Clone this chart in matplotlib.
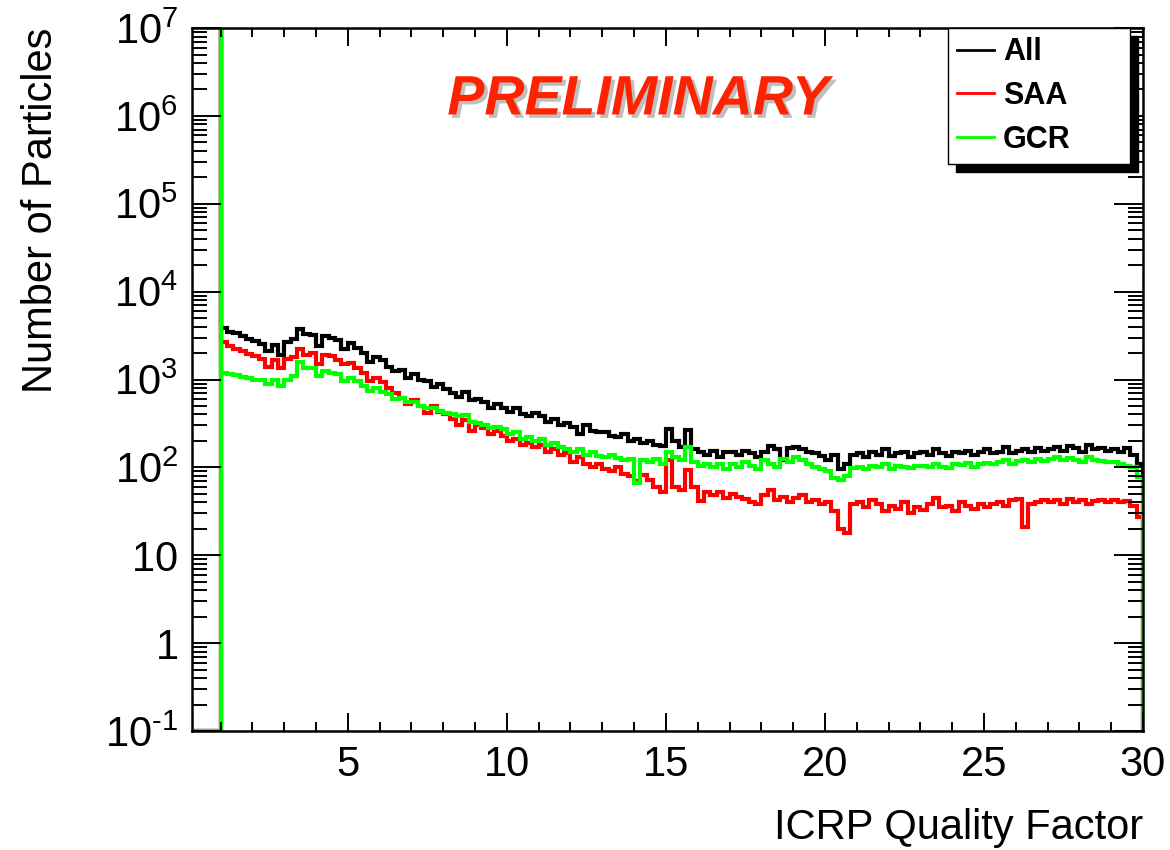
import numpy as np
import matplotlib
matplotlib.use('Agg')
import matplotlib.pyplot as plt
import matplotlib.ticker as ticker
import matplotlib.patheffects as pe

plt.rcParams['font.family'] = ['Liberation Sans', 'DejaVu Sans']
plt.rcParams['mathtext.fontset'] = 'custom'
plt.rcParams['mathtext.rm'] = 'Liberation Sans'
plt.rcParams['mathtext.it'] = 'Liberation Sans:italic'
plt.rcParams['mathtext.bf'] = 'Liberation Sans:bold'

# histogram binning: 0.2 wide bins from Q=1 to Q=30
q_lo, q_hi, n_bins = 1.0, 30.0, 145
x_min = 0.1
# counts in the Q=1 bin (off scale)
q1_count = 3e7

all_counts = [
    3900, 3500, 3350, 3100, 2900, 2750, 2550, 2100, 2450, 1900,
    2700, 2900, 3800, 3300, 3200, 2400, 3100, 3000, 2800, 2200,
    2600, 2300, 2000, 1600, 1800, 1650, 1400, 1250, 1300, 1050,
    1150, 1000, 950, 820, 880, 780, 700, 640, 720, 590,
    600, 560, 470, 520, 470, 430, 470, 400, 380, 420,
    380, 330, 360, 300, 320, 290, 240, 300, 260, 250,
    250, 230, 220, 240, 200, 210, 190, 200, 180, 175,
    270, 200, 170, 265, 160, 150, 140, 155, 130, 150,
    150, 140, 155, 145, 130, 150, 175, 160, 120, 165,
    170, 160, 150, 145, 135, 120, 140, 95, 110, 140,
    145, 130, 150, 140, 160, 135, 145, 150, 130, 145,
    150, 140, 160, 145, 135, 150, 145, 155, 140, 150,
    160, 145, 150, 170, 145, 155, 160, 150, 165, 155,
    160, 170, 155, 175, 165, 150, 180, 160, 165, 155,
    160, 150, 165, 140, 110,
]

saa_counts = [
    2700, 2400, 2250, 2100, 1950, 1850, 1700, 1400, 1650, 1350,
    1700, 1800, 2200, 1900, 2000, 1500, 1900, 1850, 1650, 1500,
    1550, 1350, 1200, 950, 1050, 930, 800, 700, 620, 520,
    580, 500, 420, 500, 430, 400, 360, 300, 350, 260,
    300, 280, 240, 260, 230, 200, 210, 180, 190, 170,
    180, 150, 160, 140, 145, 115, 130, 110, 100, 110,
    95, 90, 100, 85, 80, 70, 82, 72, 60, 53,
    120, 60, 55, 93, 60, 41, 52, 48, 53, 45,
    50, 46, 44, 40, 38, 48, 55, 42, 46, 40,
    45, 48, 40, 42, 38, 40, 32, 20, 18, 38,
    40, 35, 42, 38, 32, 36, 34, 40, 30, 35,
    33, 38, 45, 35, 36, 32, 40, 36, 34, 38,
    35, 38, 40, 36, 42, 44, 21, 38, 40, 42,
    40, 42, 38, 44, 40, 42, 38, 41, 43, 40,
    42, 40, 41, 36, 27,
]

gcr_counts = [
    1200, 1150, 1120, 1080, 1050, 1000, 1000, 880, 980, 850,
    1000, 1100, 1600, 1350, 1350, 1100, 1250, 1200, 1150, 950,
    1050, 950, 850, 750, 800, 720, 680, 600, 620, 560,
    560, 500, 470, 480, 440, 420, 400, 380, 390, 330,
    320, 300, 280, 290, 270, 240, 250, 210, 220, 200,
    210, 180, 190, 170, 160, 150, 160, 140, 150, 135,
    130, 140, 128, 120, 125, 67, 120, 115, 125, 110,
    150, 130, 120, 170, 115, 105, 110, 100, 108, 95,
    110, 100, 115, 105, 95, 120, 110, 100, 125, 115,
    130, 120, 110, 100, 95, 90, 75, 72, 80, 98,
    100, 95, 105, 100, 110, 95, 105, 100, 98, 105,
    105, 100, 110, 102, 98, 110, 106, 112, 100, 110,
    112, 108, 115, 120, 110, 118, 120, 115, 125, 118,
    125, 130, 120, 128, 122, 115, 130, 120, 118, 115,
    115, 110, 105, 100, 78,
]

labels = ['All', 'SAA', 'GCR']
colors = ['black', '#ff0000', '#00ff00']

y_min, y_max = 0.1, 1e7


def full_hist(counts):
    # empty region below Q=1, the Q=1 spike, then the spectrum
    edges = np.concatenate([[x_min, q_lo], np.linspace(q_lo, q_hi, n_bins + 1)])
    vals = np.concatenate([[y_min, q1_count], np.asarray(counts, dtype=float)])
    return vals, edges


fig = plt.figure(figsize=(11.7, 8.5), dpi=100)
ax = fig.add_axes([0.1641, 0.14, 0.8128, 0.827])

for counts, lab, col in zip([all_counts, saa_counts, gcr_counts], labels, colors):
    vals, edges = full_hist(counts)
    ax.stairs(vals, edges, baseline=y_min, color=col, lw=3.0, label=lab)

ax.set_yscale('log')
ax.set_xlim(x_min, q_hi)
ax.set_ylim(y_min, y_max)

ax.xaxis.set_major_locator(ticker.MultipleLocator(5))
ax.xaxis.set_minor_locator(ticker.MultipleLocator(1))
ax.xaxis.set_major_formatter(ticker.FuncFormatter(lambda v, p: '%d' % v if v >= 5 else ''))

ax.yaxis.set_major_locator(ticker.LogLocator(base=10, numticks=20))
ax.yaxis.set_minor_locator(ticker.LogLocator(base=10, subs=np.arange(2, 10), numticks=100))
ax.yaxis.set_minor_formatter(ticker.NullFormatter())


def ylab(v, p):
    e = int(round(np.log10(v)))
    if e == 0:
        return '$1$'
    if e == 1:
        return '$10$'
    if e < 0:
        return '$10^{\u2010%d}$' % (-e)
    return '$10^{%d}$' % e


ax.yaxis.set_major_formatter(ticker.FuncFormatter(ylab))

ax.tick_params(which='both', direction='in', top=True, right=True, width=1.4, labelsize=30)
ax.tick_params(axis='x', which='major', length=13, pad=10)
ax.tick_params(axis='x', which='minor', length=6.5)
ax.tick_params(axis='y', which='major', length=21, pad=10)
ax.tick_params(axis='y', which='minor', length=11)
for s in ax.spines.values():
    s.set_linewidth(1.8)

ax.set_xlabel('ICRP Quality Factor', fontsize=30, loc='right', labelpad=17)
ax.set_ylabel('Number of Particles', fontsize=30, loc='top', labelpad=32)

# ROOT-style legend box: fixed width, entries left-aligned
leg = ax.legend(loc='upper left', bbox_to_anchor=(0.795, 0.81, 0.191, 0.19), mode='expand',
                fontsize=22, frameon=True, fancybox=False, edgecolor='black', framealpha=1,
                shadow={'ox': 6, 'oy': -6, 'color': 'black', 'alpha': 1},
                handlelength=1.2, handletextpad=0.3, labelspacing=0.45,
                borderpad=0.3, borderaxespad=0)
leg.get_frame().set_linewidth(1.0)
for t in leg.get_texts():
    t.set_fontweight('bold')
for h in leg.legend_handles:
    h.set_linewidth(2.0)

ax.text(0.469, 0.897, 'PRELIMINARY', transform=ax.transAxes, ha='center', va='center',
        fontsize=40, fontweight='bold', fontstyle='italic', color='#ff2200',
        path_effects=[pe.withSimplePatchShadow(offset=(2.5, -2.5), shadow_rgbFace='gray', alpha=0.5)])

fig.savefig('out.png', dpi=100)
